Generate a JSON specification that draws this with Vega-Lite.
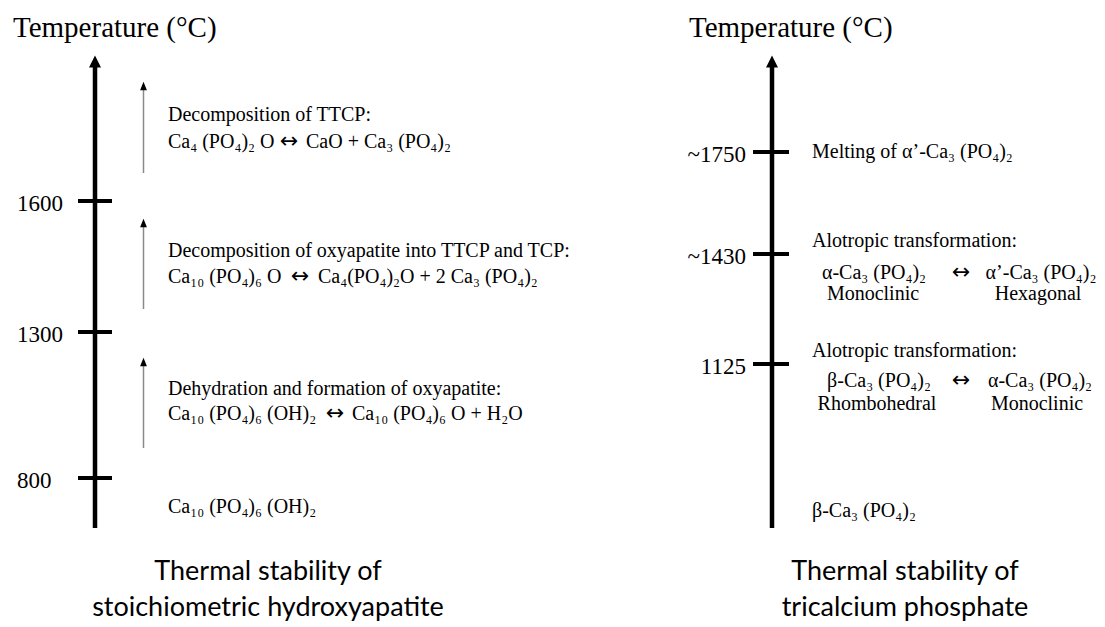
{
  "$schema": "https://vega.github.io/schema/vega-lite/v6.json",
  "width": 1105,
  "height": 627,
  "autosize": {"type": "fit", "contains": "padding"},
  "padding": 0,
  "background": "white",
  "config": {"view": {"stroke": null}},
  "datasets": {
    "axes": [
      {"panel": "hydroxyapatite", "x": 95, "y": 528, "y2": 64},
      {"panel": "tcp", "x": 772, "y": 528, "y2": 64}
    ],
    "axisHeads": [
      {"panel": "hydroxyapatite", "x": 95, "y": 61.5},
      {"panel": "tcp", "x": 772, "y": 61.5}
    ],
    "ticks": [
      {"panel": "hydroxyapatite", "label": "1600", "x": 78, "x2": 112, "y": 201},
      {"panel": "hydroxyapatite", "label": "1300", "x": 78, "x2": 112, "y": 332},
      {"panel": "hydroxyapatite", "label": "800", "x": 78, "x2": 112, "y": 478},
      {"panel": "tcp", "label": "~1750", "x": 753, "x2": 789, "y": 152},
      {"panel": "tcp", "label": "~1430", "x": 753, "x2": 789, "y": 254},
      {"panel": "tcp", "label": "1125", "x": 753, "x2": 789, "y": 364}
    ],
    "leftTickLabels": [
      {"label": "1600", "x": 17, "y": 211},
      {"label": "1300", "x": 17, "y": 342},
      {"label": "800", "x": 17, "y": 488}
    ],
    "rightTickLabels": [
      {"label": "~1750", "x": 746, "y": 162},
      {"label": "~1430", "x": 746, "y": 264},
      {"label": "1125", "x": 746, "y": 374}
    ],
    "stepArrows": [
      {"step": "TTCP decomposition", "x": 143.5, "y": 173, "y2": 88},
      {"step": "oxyapatite decomposition", "x": 143.5, "y": 309, "y2": 225},
      {"step": "dehydration", "x": 143.5, "y": 448, "y2": 364}
    ],
    "stepHeads": [
      {"step": "TTCP decomposition", "x": 143.5, "y": 86},
      {"step": "oxyapatite decomposition", "x": 143.5, "y": 223},
      {"step": "dehydration", "x": 143.5, "y": 362}
    ],
    "titles": [
      {"text": "Temperature (°C)", "x": 13, "y": 37},
      {"text": "Temperature (°C)", "x": 689, "y": 37}
    ],
    "leftTexts": [
      {"text": "Decomposition of TTCP:", "x": 168, "y": 121},
      {"text": "Ca₄ (PO₄)₂ O", "x": 168, "y": 148},
      {"text": "CaO + Ca₃ (PO₄)₂", "x": 306, "y": 148},
      {"text": "Decomposition of oxyapatite into TTCP and TCP:", "x": 168, "y": 257},
      {"text": "Ca₁₀ (PO₄)₆ O", "x": 168, "y": 283},
      {"text": "Ca₄(PO₄)₂O + 2 Ca₃ (PO₄)₂", "x": 318, "y": 283},
      {"text": "Dehydration and formation of oxyapatite:", "x": 168, "y": 395},
      {"text": "Ca₁₀ (PO₄)₆ (OH)₂", "x": 168, "y": 420},
      {"text": "Ca₁₀ (PO₄)₆ O + H₂O", "x": 352, "y": 420},
      {"text": "Ca₁₀ (PO₄)₆ (OH)₂", "x": 168, "y": 513},
      {"text": "Melting of α’-Ca₃ (PO₄)₂", "x": 812, "y": 158},
      {"text": "Alotropic transformation:", "x": 812, "y": 247},
      {"text": "Alotropic transformation:", "x": 812, "y": 357},
      {"text": "β-Ca₃ (PO₄)₂", "x": 812, "y": 517}
    ],
    "reactionArrows": [
      {"text": "↔", "x": 289, "y": 148},
      {"text": "↔", "x": 300, "y": 283},
      {"text": "↔", "x": 335, "y": 420},
      {"text": "↔", "x": 961, "y": 279},
      {"text": "↔", "x": 961, "y": 387}
    ],
    "centerTexts": [
      {"text": "α-Ca₃ (PO₄)₂", "x": 874, "y": 279},
      {"text": "α’-Ca₃ (PO₄)₂", "x": 1041, "y": 279},
      {"text": "Monoclinic", "x": 873, "y": 300},
      {"text": "Hexagonal", "x": 1038, "y": 300},
      {"text": "β-Ca₃ (PO₄)₂", "x": 879, "y": 387},
      {"text": "α-Ca₃ (PO₄)₂", "x": 1040, "y": 387},
      {"text": "Rhombohedral", "x": 877, "y": 410},
      {"text": "Monoclinic", "x": 1037, "y": 410}
    ],
    "captions": [
      {"text": "Thermal stability of", "x": 268, "y": 580},
      {"text": "stoichiometric hydroxyapatite", "x": 268, "y": 616},
      {"text": "Thermal stability of", "x": 905, "y": 580},
      {"text": "tricalcium phosphate", "x": 905, "y": 616}
    ]
  },
  "encoding": {
    "x": {"field": "x", "type": "quantitative", "scale": {"domain": [0, 1105], "nice": false, "zero": false}, "axis": null},
    "y": {"field": "y", "type": "quantitative", "scale": {"domain": [0, 627], "nice": false, "zero": false, "reverse": true}, "axis": null}
  },
  "layer": [
    {
      "data": {"name": "axes"},
      "mark": {"type": "rule", "color": "black", "strokeWidth": 4.5},
      "encoding": {"y2": {"field": "y2"}}
    },
    {
      "data": {"name": "axisHeads"},
      "mark": {"type": "point", "shape": "M -1 1 L 1 1 L 0 -1 Z", "filled": true, "color": "black", "size": 144, "opacity": 1}
    },
    {
      "data": {"name": "ticks"},
      "mark": {"type": "rule", "color": "black", "strokeWidth": 4},
      "encoding": {"x2": {"field": "x2"}}
    },
    {
      "data": {"name": "stepArrows"},
      "mark": {"type": "rule", "color": "#8a8a8a", "strokeWidth": 1.5},
      "encoding": {"y2": {"field": "y2"}}
    },
    {
      "data": {"name": "stepHeads"},
      "mark": {"type": "point", "shape": "M -0.8 1 L 0.8 1 L 0 -1 Z", "filled": true, "color": "black", "size": 72, "opacity": 1}
    },
    {
      "data": {"name": "leftTickLabels"},
      "mark": {"type": "text", "align": "left", "baseline": "alphabetic", "font": "Liberation Serif", "fontSize": 23, "color": "black"},
      "encoding": {"text": {"field": "label"}}
    },
    {
      "data": {"name": "rightTickLabels"},
      "mark": {"type": "text", "align": "right", "baseline": "alphabetic", "font": "Liberation Serif", "fontSize": 23, "color": "black"},
      "encoding": {"text": {"field": "label"}}
    },
    {
      "data": {"name": "titles"},
      "mark": {"type": "text", "align": "left", "baseline": "alphabetic", "font": "Liberation Serif", "fontSize": 29, "color": "black"},
      "encoding": {"text": {"field": "text"}}
    },
    {
      "data": {"name": "leftTexts"},
      "mark": {"type": "text", "align": "left", "baseline": "alphabetic", "font": "Liberation Serif", "fontSize": 20, "color": "black"},
      "encoding": {"text": {"field": "text"}}
    },
    {
      "data": {"name": "reactionArrows"},
      "mark": {"type": "text", "align": "center", "baseline": "alphabetic", "font": "DejaVu Sans", "fontSize": 22, "color": "black"},
      "encoding": {"text": {"field": "text"}}
    },
    {
      "data": {"name": "centerTexts"},
      "mark": {"type": "text", "align": "center", "baseline": "alphabetic", "font": "Liberation Serif", "fontSize": 20, "color": "black"},
      "encoding": {"text": {"field": "text"}}
    },
    {
      "data": {"name": "captions"},
      "mark": {"type": "text", "align": "center", "baseline": "alphabetic", "font": "Lato", "fontSize": 27, "color": "black"},
      "encoding": {"text": {"field": "text"}}
    }
  ]
}
